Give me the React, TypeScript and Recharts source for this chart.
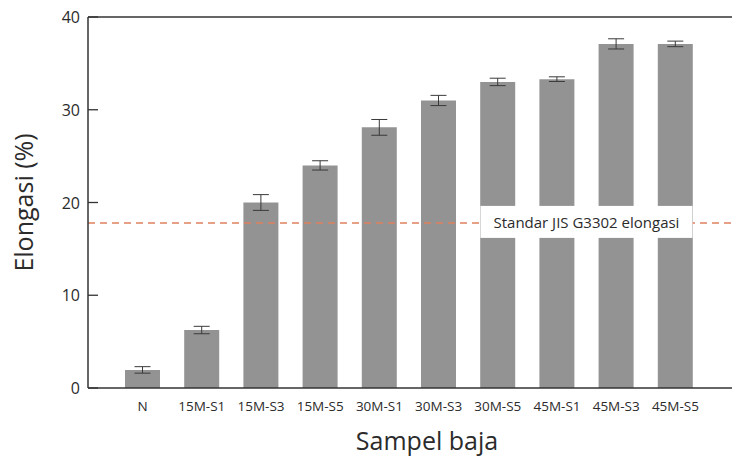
import React from 'react';
import { BarChart, Bar, XAxis, YAxis, ErrorBar, ReferenceLine, Label } from 'recharts';

const categories = ['N', '15M-S1', '15M-S3', '15M-S5', '30M-S1', '30M-S3', '30M-S5', '45M-S1', '45M-S3', '45M-S5'];
const elongation = [1.95, 6.25, 20.0, 24.0, 28.1, 31.0, 33.0, 33.3, 37.1, 37.1];
const errors = [0.35, 0.4, 0.85, 0.5, 0.85, 0.55, 0.4, 0.25, 0.55, 0.3];
const yTicks = [0, 10, 20, 30, 40];
const standardValue = 17.8;
const standardLabel = 'Standar JIS G3302 elongasi';

const data = categories.map((c, i) => ({ name: c, value: elongation[i], err: errors[i] }));

const FONT = '"Open Sans", "Noto Sans", sans-serif';
const TEXT = '#2b2b2b';

const YTick = (props: any) => {
  const { x, y, payload } = props;
  return (
    <g>
      <line x1={x} x2={x + 10} y1={y} y2={y} stroke="#333" strokeWidth={1.3} />
      <text x={x - 8} y={y} textAnchor="end" dominantBaseline="central" fontSize={16} fontFamily={FONT} fill={TEXT}>
        {payload.value}
      </text>
    </g>
  );
};

const XTick = (props: any) => {
  const { x, y, payload } = props;
  return (
    <text x={x} y={y + 18} textAnchor="middle" dominantBaseline="central" fontSize={13.5} fontFamily={FONT} fill={TEXT}>
      {payload.value}
    </text>
  );
};

const StdLabel = (props: any) => {
  const vb = props.viewBox || {};
  const cx = vb.x + vb.width * 0.774;
  const cy = vb.y - 1;
  const w = 212;
  const h = 32;
  return (
    <g>
      <rect x={cx - w / 2} y={cy - h / 2} width={w} height={h} fill="#ffffff" />
      <text x={cx} y={cy} textAnchor="middle" dominantBaseline="central" fontSize={15} fontFamily={FONT} fill={TEXT}>
        {standardLabel}
      </text>
    </g>
  );
};

export default function App() {
  return (
    <div style={{ position: 'absolute', left: 0, top: 0, width: 732, height: 459, background: '#fff' }}>
      <BarChart width={732} height={459} data={data} margin={{ top: 17, right: 0, bottom: 0, left: 0 }}>
        <XAxis
          dataKey="name"
          height={71}
          padding={{ left: 25, right: 27 }}
          tickLine={false}
          tickSize={0}
          tickMargin={0}
          tick={<XTick />}
          axisLine={{ stroke: '#333', strokeWidth: 1.5 }}
          interval={0}
        >
          <Label
            content={(p: any) => {
              const vb = p.viewBox;
              return (
                <text x={vb.x + vb.width / 2 + 17} y={450} textAnchor="middle" fontSize={25} fontFamily={FONT} fill={TEXT}>
                  Sampel baja
                </text>
              );
            }}
          />
        </XAxis>
        <YAxis
          width={88}
          domain={[0, 40]}
          ticks={yTicks}
          tickLine={false}
          tickSize={0}
          tickMargin={0}
          tick={<YTick />}
          axisLine={{ stroke: '#333', strokeWidth: 1.5 }}
        >
          <Label
            content={(p: any) => {
              const vb = p.viewBox;
              const cy = vb.y + vb.height / 2;
              return (
                <text x={23} y={cy} transform={`rotate(-90, 23, ${cy})`} textAnchor="middle" dominantBaseline="central" fontSize={25} fontFamily={FONT} fill={TEXT}>
                  Elongasi (%)
                </text>
              );
            }}
          />
        </YAxis>
        <ReferenceLine y={40} stroke="#333" strokeWidth={1.5} />
        <Bar dataKey="value" fill="#939393" barSize={35} isAnimationActive={false}>
          <ErrorBar dataKey="err" width={8} stroke="#3a3a3a" strokeWidth={1} direction="y" />
        </Bar>
        <ReferenceLine
          y={standardValue}
          stroke="#e0805f"
          strokeWidth={1.5}
          strokeDasharray="7 5"
          label={<StdLabel />}
        />
      </BarChart>
    </div>
  );
}
